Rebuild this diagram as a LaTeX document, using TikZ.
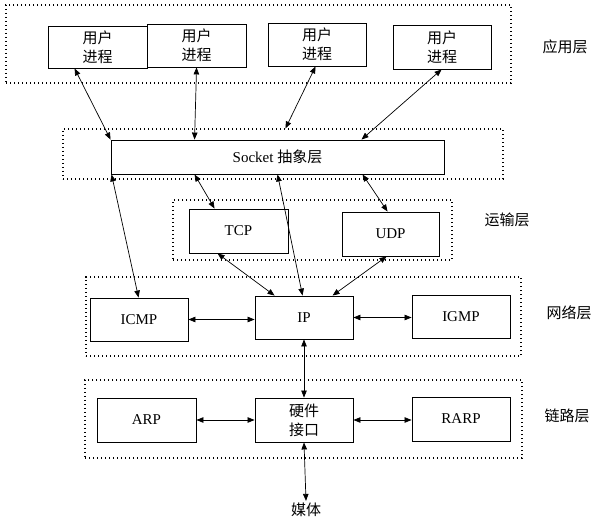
\documentclass[tikz,border=0pt]{standalone}
\usepackage{fontspec}
\setmainfont{Liberation Serif}
\newfontfamily\cjk{Noto Sans CJK SC}
\usetikzlibrary{arrows.meta}
\tikzset{
  box/.style={draw=black, line width=0.9pt, fill=white, inner sep=0pt, align=center,
    font=\fontsize{15}{19}\selectfont},
  layerbox/.style={draw=black, line width=1.1pt, dash pattern=on 1.1pt off 2.9pt, inner sep=0pt},
  layerlabel/.style={inner sep=0pt, font=\fontsize{15}{19}\selectfont\cjk},
  conn/.style={line width=0.7pt, {Triangle[length=7pt,width=5.5pt]}-{Triangle[length=7pt,width=5.5pt]}},
}
\begin{document}
\begin{tikzpicture}[x=1pt,y=-1pt]
\useasboundingbox (0,0) rectangle (604,526);
% layer frames
\node[layerbox, minimum width=505pt, minimum height=78pt] (appL) at (258.5,44) {};
\node[layerbox, minimum width=440pt, minimum height=50pt] (sockL) at (283,154) {};
\node[layerbox, minimum width=279pt, minimum height=60pt] (transL) at (312.5,230) {};
\node[layerbox, minimum width=435pt, minimum height=79pt] (netL) at (303.5,316.5) {};
\node[layerbox, minimum width=437pt, minimum height=78pt] (linkL) at (303.5,419) {};
% boxes
\node[box, minimum width=99pt, minimum height=42pt] (u1) at (97.5,47) {\cjk 用户\\\cjk 进程};
\node[box, minimum width=99pt, minimum height=43pt] (u2) at (196.5,45.5) {\cjk 用户\\\cjk 进程};
\node[box, minimum width=98pt, minimum height=43pt] (u3) at (317,44.5) {\cjk 用户\\\cjk 进程};
\node[box, minimum width=98pt, minimum height=44pt] (u4) at (442,47) {\cjk 用户\\\cjk 进程};
\node[box, minimum width=333pt, minimum height=34pt] (sock) at (277.5,157) {Socket {\cjk 抽象层}};
\node[box, minimum width=99pt, minimum height=44pt] (tcp) at (238.5,231) {TCP};
\node[box, minimum width=97pt, minimum height=44pt] (udp) at (390.5,234) {UDP};
\node[box, minimum width=98pt, minimum height=43pt] (icmp) at (139,319.5) {ICMP};
\node[box, minimum width=98pt, minimum height=43pt] (ip) at (304,317.5) {IP};
\node[box, minimum width=98pt, minimum height=43pt] (igmp) at (461,316.5) {IGMP};
\node[box, minimum width=99pt, minimum height=44pt] (arp) at (146.5,420) {ARP};
\node[box, minimum width=98pt, minimum height=44pt] (hw) at (304,420) {\cjk 硬件\\\cjk 接口};
\node[box, minimum width=98pt, minimum height=44pt] (rarp) at (461,419) {RARP};
% labels
\node[layerlabel] (lapp) at (565,47) {应用层};
\node[layerlabel] (ltrans) at (507,220) {运输层};
\node[layerlabel] (lnet) at (569,313) {网络层};
\node[layerlabel] (llink) at (567,416) {链路层};
\node[layerlabel, inner sep=2pt] (media) at (306,510) {媒体};
% connectors
\draw[conn] ([xshift=27pt]u1.south west) -- (sock.north west);
\draw[conn] ([xshift=50pt]u2.south west) -- ([xshift=84pt]sock.north west);
\draw[conn] ([xshift=48pt]u3.south west) -- ([xshift=223pt]sockL.north west);
\draw[conn] ([xshift=49pt]u4.south west) -- ([xshift=251pt]sock.north west);
\draw[conn] ([xshift=1pt]sock.south west) -- ([xshift=49pt]icmp.north west);
\draw[conn] ([xshift=84pt]sock.south west) -- ([xshift=26pt]tcp.north west);
\draw[conn] ([xshift=167pt]sock.south west) -- ([xshift=48pt]ip.north west);
\draw[conn] ([xshift=252pt]sock.south west) -- ([xshift=46pt]udp.north west);
\draw[conn] ([xshift=29pt]tcp.south west) -- ([xshift=20pt]ip.north west);
\draw[conn] ([xshift=45pt]udp.south west) -- ([xshift=78pt]ip.north west);
\draw[conn] (icmp.east) -- (icmp.east -| ip.west);
\draw[conn] (ip.east) -- (ip.east -| igmp.west);
\draw[conn] (ip.south) -- (hw.north);
\draw[conn] (arp.east) -- (arp.east -| hw.west);
\draw[conn] (hw.east) -- (hw.east -| rarp.west);
\draw[conn] (hw.south) -- (media.north);
\end{tikzpicture}
\end{document}
